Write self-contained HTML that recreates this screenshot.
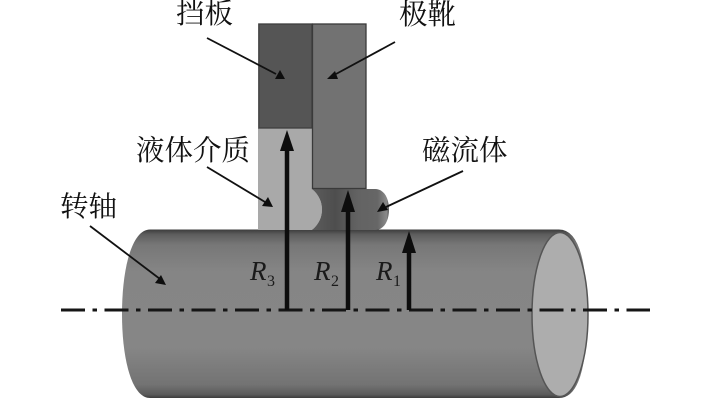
<!DOCTYPE html>
<html><head><meta charset="utf-8">
<style>
html,body{margin:0;padding:0;background:#fff;width:709px;height:400px;overflow:hidden}
svg{display:block}
.c{font-family:"Liberation Serif","Noto Serif CJK SC",serif;font-size:28.500px;fill:#111}
.r{font-family:"Liberation Serif",serif;font-style:italic;font-size:27px;fill:#1a1a1a}
.s{font-family:"Liberation Serif",serif;font-size:16px;fill:#1a1a1a}
</style></head><body>
<svg width="709" height="400" viewBox="0 0 709 400" xmlns="http://www.w3.org/2000/svg">
<defs>
<linearGradient id="cyl" x1="0" y1="0" x2="0" y2="1">
<stop offset="0" stop-color="#3c3c3c"/><stop offset=".03" stop-color="#5e5e5e"/><stop offset=".09" stop-color="#777"/><stop offset=".25" stop-color="#858585"/><stop offset=".7" stop-color="#868686"/><stop offset=".92" stop-color="#737373"/><stop offset=".98" stop-color="#5a5a5a"/><stop offset="1" stop-color="#3c3c3c"/>
</linearGradient>
<linearGradient id="ff" x1="0" y1="0" x2="1" y2="0">
<stop offset="0" stop-color="#5c5c5c"/><stop offset=".3" stop-color="#4e4e4e"/><stop offset=".6" stop-color="#636363"/><stop offset=".85" stop-color="#666"/><stop offset=".97" stop-color="#8a8a8a"/><stop offset="1" stop-color="#555"/>
</linearGradient>
</defs>
<path d="M150 229.500H559Q587 229.500 587 314Q587 398 559 398H150C132 398 122 360 122 314C122 268 132 229.500 150 229.500Z" fill="url(#cyl)"/>
<ellipse cx="560" cy="314.500" rx="28" ry="82" fill="#adadad" stroke="#555" stroke-width="1.500"/>
<path d="M258 128H312V189C319 195 322 202 322 209.500C322 217 319 224 312 230H258Z" fill="#a9a9a9"/>
<path d="M312 189H375C384 189 389 198 389 209.500C389 221 384 230 375 230H312C319 224 322 217 322 209.500C322 202 319 195 312 189Z" fill="url(#ff)"/>
<rect x="258.800" y="24" width="53.200" height="104" fill="#555" stroke="#3f3f3f" stroke-width="1.300"/>
<rect x="312.500" y="24" width="53.500" height="164.500" fill="#727272" stroke="#3a3a3a" stroke-width="1.300"/>
<line x1="61" y1="310" x2="650" y2="310" stroke="#151515" stroke-width="3" stroke-dasharray="24 7.500 4.500 7.500"/>
<g stroke="#0d0d0d" stroke-width="4.500" fill="#0d0d0d">
<line x1="287" y1="310" x2="287" y2="148"/><line x1="348" y1="310" x2="348" y2="208"/><line x1="409" y1="310" x2="409" y2="250"/>
</g>
<g fill="#0d0d0d">
<polygon points="287,130 280,151 294,151"/><polygon points="348,190 341,212 355,212"/><polygon points="409,231 402,253 416,253"/>
</g>
<g stroke="#111" stroke-width="1.800" fill="none">
<line x1="207" y1="38" x2="276" y2="74"/><line x1="395" y1="42" x2="336" y2="74"/><line x1="207" y1="167" x2="265" y2="202"/><line x1="463" y1="171" x2="386" y2="207"/><line x1="90" y1="226" x2="160" y2="279"/>
</g>
<g fill="#0d0d0d">
<polygon points="285,79 275,79 280,70"/><polygon points="327,79 338,79 335,71"/><polygon points="273,207 262,206 268,197"/><polygon points="377,212 388,210 383,202"/><polygon points="166,285 155,283 161,275"/>
</g>
<text class="c" x="176" y="23">挡板</text>
<text class="c" x="399" y="24">极靴</text>
<text class="c" x="136" y="160">液体介质</text>
<text class="c" x="422" y="160">磁流体</text>
<text class="c" x="60" y="216">转轴</text>
<text class="r" x="250" y="280">R</text><text class="s" x="267" y="286">3</text>
<text class="r" x="314" y="280">R</text><text class="s" x="331" y="286">2</text>
<text class="r" x="376" y="280">R</text><text class="s" x="393" y="286">1</text>
</svg>
</body></html>
